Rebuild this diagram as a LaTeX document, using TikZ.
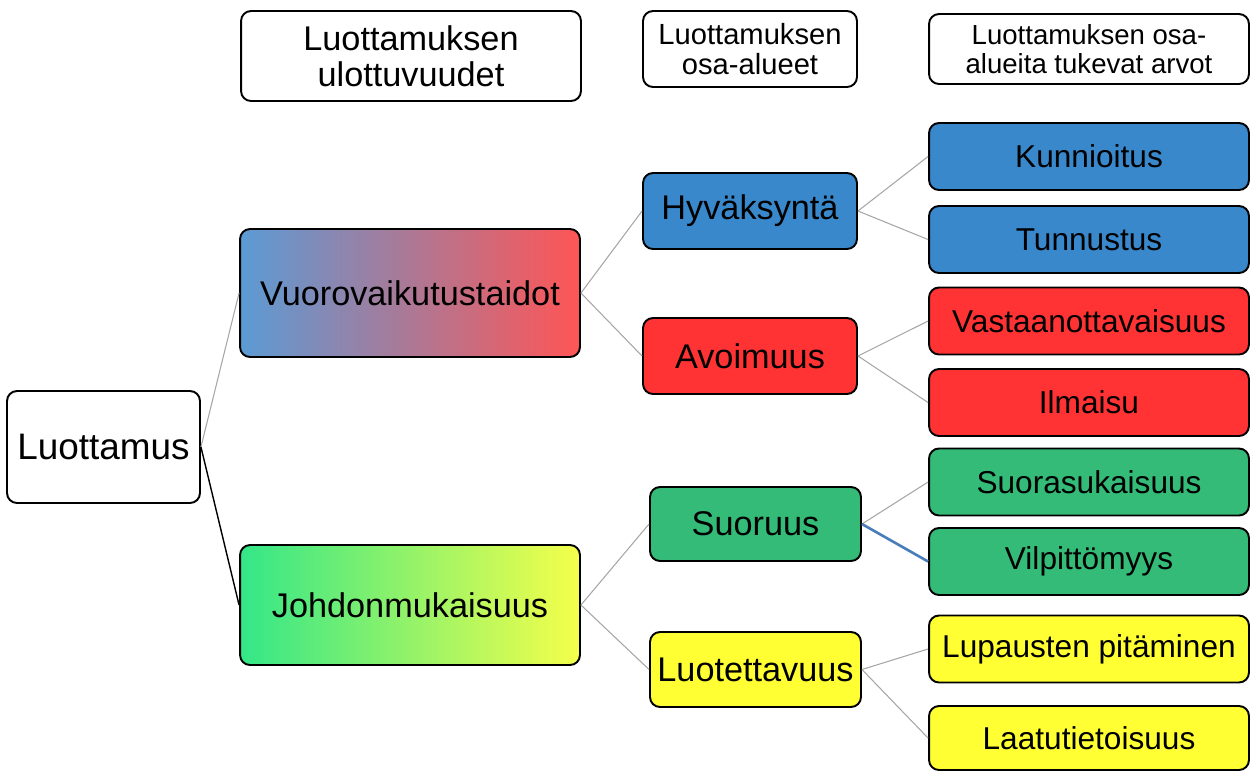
\documentclass[tikz,border=0pt]{standalone}
\usepackage{fontspec}
\setmainfont{Liberation Sans}
\usetikzlibrary{positioning}
\definecolor{HyvBlue}{HTML}{3A88CC}
\definecolor{AvoRed}{HTML}{FF3333}
\definecolor{SuoGreen}{HTML}{33BB77}
\definecolor{LuoYellow}{HTML}{FFFF33}
\definecolor{LinkGray}{HTML}{A6A6A6}
\definecolor{LinkBlue}{HTML}{4A7EBB}

\begin{document}
\begin{tikzpicture}[x=0.02cm, y=-0.02cm,
    box/.style={draw, line width=1.1pt, rounded corners=0.2cm, inner sep=0pt, align=center},
    head/.style={box, fill=white},
    mid/.style={box, minimum width=4.28cm, minimum height=1.52cm, font=\fontsize{19.5}{22}\selectfont},
    leaf/.style={box, minimum width=6.4cm, minimum height=1.34cm, font=\fontsize{18}{21}\selectfont},
    link/.style={LinkGray, line width=0.6pt}]
    \useasboundingbox (0,0) rectangle (1251,772);
    % otsikot
    \node[head, minimum width=6.8cm, minimum height=1.8cm, font=\fontsize{19.5}{20.5}\selectfont]
      (otsA) at (411,56) {Luottamuksen\\ulottuvuudet};
    \node[head, minimum width=4.28cm, minimum height=1.52cm, font=\fontsize{16.6}{17}\selectfont]
      (otsB) at (750,49) {Luottamuksen\\osa-alueet};
    \node[head, minimum width=6.4cm, minimum height=1.4cm, font=\fontsize{15.7}{16.5}\selectfont]
      (otsC) at (1089,49) {Luottamuksen osa-\\alueita tukevat arvot};
    % puu
    \node[box, fill=white, minimum width=3.86cm, minimum height=2.24cm, font=\fontsize{21}{24}\selectfont]
      (luottamus) at (103.5,447) {Luottamus};
    \node[box, left color={rgb,255:red,91;green,155;blue,213}, right color={rgb,255:red,255;green,85;blue,85},
      minimum width=6.8cm, minimum height=2.56cm, font=\fontsize{19.5}{22}\selectfont]
      (vuoro) at (410,293) {Vuorovaikutustaidot};
    \node[box, left color={rgb,255:red,51;green,230;blue,136}, right color={rgb,255:red,245;green,255;blue,74},
      minimum width=6.8cm, minimum height=2.4cm, font=\fontsize{19.5}{22}\selectfont]
      (johdon) at (410,605) {Johdonmukaisuus};
    \node[mid, fill=HyvBlue] (hyv) at (750,211) {Hyväksyntä};
    \node[mid, fill=AvoRed] (avo) at (750,356) {Avoimuus};
    \node[mid, fill=SuoGreen, minimum width=4.22cm, minimum height=1.48cm] (suo) at (755.5,524) {Suoruus};
    \node[mid, fill=LuoYellow, minimum width=4.22cm, minimum height=1.5cm] (luo) at (755.5,669.5) {Luotettavuus};
    \node[leaf, fill=HyvBlue] (kun) at (1089,156.5) {Kunnioitus};
    \node[leaf, fill=HyvBlue] (tun) at (1089,239.5) {Tunnustus};
    \node[leaf, fill=AvoRed] (vas) at (1089,321) {Vastaanottavaisuus};
    \node[leaf, fill=AvoRed] (ilm) at (1089,402.5) {Ilmaisu};
    \node[leaf, fill=SuoGreen] (suor) at (1089,482) {Suorasukaisuus};
    \node[leaf, fill=SuoGreen] (vil) at (1089,561.5) {Vilpittömyys};
    \node[leaf, fill=LuoYellow] (lup) at (1089,649) {Lupausten pitäminen};
    \node[leaf, fill=LuoYellow, minimum height=1.28cm] (laa) at (1089,738) {Laatutietoisuus};
    % yhteydet
    \draw[link] (luottamus.east) -- (vuoro.west);
    \draw[black, line width=0.8pt] (luottamus.east) -- (johdon.west);
    \draw[link] (vuoro.east) -- (hyv.west);
    \draw[link] (vuoro.east) -- (avo.west);
    \draw[link] (johdon.east) -- (suo.west);
    \draw[link] (johdon.east) -- (luo.west);
    \draw[link] (hyv.east) -- (kun.west);
    \draw[link] (hyv.east) -- (tun.west);
    \draw[link] (avo.east) -- (vas.west);
    \draw[link] (avo.east) -- (ilm.west);
    \draw[link] (suo.east) -- (suor.west);
    \draw[LinkBlue, line width=1.5pt] (suo.east) -- (vil.west);
    \draw[link] (luo.east) -- (lup.west);
    \draw[link] (luo.east) -- (laa.west);
  \end{tikzpicture}
\end{document}
